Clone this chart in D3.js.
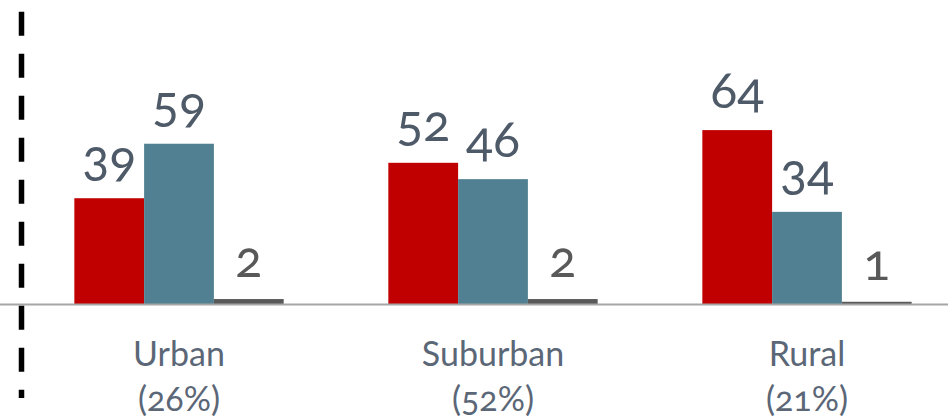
<!DOCTYPE html>
<html>
<head>
<meta charset="utf-8">
<script src="https://cdn.jsdelivr.net/npm/d3@7"></script>
<style>
  html, body { margin: 0; padding: 0; background: #fff; }
  svg { display: block; }
  text { font-family: Lato, "Open Sans", sans-serif; font-variant-numeric: oldstyle-nums; font-feature-settings: "onum" 1; }
</style>
</head>
<body>
<svg id="chart" width="948" height="418"></svg>
<script>
const categories = ["Urban", "Suburban", "Rural"];
const shares = ["(26%)", "(52%)", "(21%)"];
const seriesNames = ["s1", "s2", "s3"];
const s1 = [39, 52, 64];
const s2 = [59, 46, 34];
const s3 = [2, 2, 1];

const colors = ["#C00000", "#508091", "#595959"];
const labelColors = ["#4e5a68", "#4e5a68", "#595959"];

const W = 948, H = 418;
const svg = d3.select("#chart");

const x0 = d3.scaleBand().domain(categories).range([22, 964]).paddingInner(1/3).paddingOuter(1/6);
const x1 = d3.scaleBand().domain(seriesNames).range([0, x0.bandwidth()]).padding(0);
const y = d3.scaleLinear().domain([0, 100]).range([304.5, 32]);

const table = categories.map((c, i) => ({
  cat: c,
  share: shares[i],
  vals: [s1[i], s2[i], s3[i]].map((v, j) => ({ key: seriesNames[j], v, j }))
}));

// bars
const g = svg.append("g");
const groups = g.selectAll("g.grp").data(table).join("g")
  .attr("class", "grp")
  .attr("transform", d => `translate(${x0(d.cat)},0)`);

groups.selectAll("rect").data(d => d.vals).join("rect")
  .attr("x", d => x1(d.key))
  .attr("width", x1.bandwidth())
  .attr("y", d => y(d.v))
  .attr("height", d => y(0) - y(d.v))
  .attr("fill", d => colors[d.j]);

groups.selectAll("text.val").data(d => d.vals).join("text")
  .attr("class", "val")
  .attr("x", d => x1(d.key) + x1.bandwidth() / 2)
  .attr("y", d => y(d.v) - 22)
  .attr("text-anchor", "middle")
  .attr("font-size", 50)
  .attr("fill", d => labelColors[d.j])
  .text(d => d.v);

// baseline
svg.append("line")
  .attr("x1", 0).attr("x2", W)
  .attr("y1", y(0)).attr("y2", y(0))
  .attr("stroke", "#a6a6a6").attr("stroke-width", 2);

// category labels
const xAxis = svg.append("g");
table.forEach(d => {
  const cx = x0(d.cat) + x0.bandwidth() / 2;
  xAxis.append("text").attr("x", cx).attr("y", 366)
    .attr("text-anchor", "middle").attr("font-size", 34).attr("fill", "#5b6777")
    .text(d.cat);
  xAxis.append("text").attr("x", cx).attr("y", 411)
    .attr("text-anchor", "middle").attr("font-size", 34).attr("fill", "#5b6777")
    .text(d.share);
});

// dashed vertical line
svg.append("line")
  .attr("x1", 21.5).attr("x2", 21.5)
  .attr("y1", 11.7).attr("y2", 398)
  .attr("stroke", "#000").attr("stroke-width", 5.5)
  .attr("stroke-dasharray", "24 18");
</script>
</body>
</html>
